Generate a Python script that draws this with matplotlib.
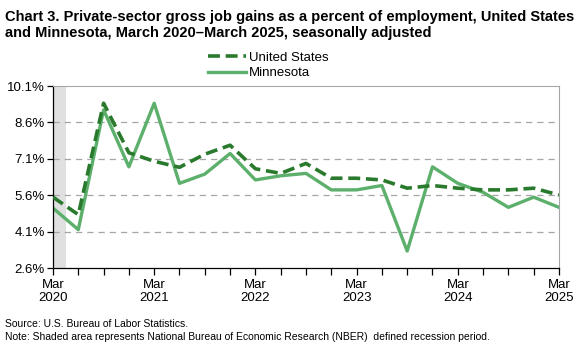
import numpy as np
import matplotlib.pyplot as plt
from matplotlib.ticker import FixedLocator, FuncFormatter

plt.rcParams['font.family'] = ['Liberation Sans', 'DejaVu Sans']

quarters = np.arange(21)
us = [5.52, 4.80, 9.39, 7.35, 7.00, 6.75, 7.29, 7.66, 6.69, 6.50, 6.91,
      6.30, 6.30, 6.23, 5.89, 6.00, 5.89, 5.82, 5.82, 5.89, 5.61]
mn = [5.07, 4.18, 9.12, 6.77, 9.39, 6.09, 6.47, 7.32, 6.23, 6.40, 6.50,
      5.82, 5.82, 6.00, 3.30, 6.77, 6.09, 5.72, 5.10, 5.52, 5.10]
year_labels = ['Mar\n2020', 'Mar\n2021', 'Mar\n2022', 'Mar\n2023', 'Mar\n2024', 'Mar\n2025']
yticks = [2.6, 4.1, 5.6, 7.1, 8.6, 10.1]

fig = plt.figure(figsize=(5.83, 3.46), dpi=100)
ax = fig.add_axes([0.0909, 0.2254, 0.8679, 0.526])

ax.axvspan(0, 0.5, color='#e0e0e0', lw=0, zorder=0)
for y in yticks[1:-1]:
    ax.axhline(y, color='#a6a6a6', lw=0.9, ls=(0, (5, 4)), zorder=1)

ax.plot(quarters, us, color='#2a7a2e', lw=2.6, ls=(0, (3.3, 1.6)), label='United States', zorder=3)
ax.plot(quarters, mn, color='#5cb06c', lw=2.4, label='Minnesota', zorder=2)

ax.set_xlim(0, 20)
ax.set_ylim(2.6, 10.1)
ax.set_yticks(yticks)
ax.yaxis.set_major_formatter(FuncFormatter(lambda v, p: f'{v:.1f}%'))
ax.set_xticks(range(0, 21, 4))
ax.set_xticklabels(year_labels)
ax.xaxis.set_minor_locator(FixedLocator(range(21)))
ax.tick_params(axis='x', which='both', length=5, width=0.9, labelsize=9.5, pad=3)
ax.tick_params(axis='y', length=4, width=0.9, labelsize=9.5, pad=2)
for lab in ax.get_xticklabels():
    lab.set_linespacing(1.15)

ax.spines['top'].set_color('#a6a6a6')
ax.spines['right'].set_color('#a6a6a6')
ax.spines['left'].set_linewidth(0.9)
ax.spines['bottom'].set_linewidth(0.9)

ax.legend(loc='lower center', bbox_to_anchor=(0.425, 1.0), frameon=False, fontsize=9.5,
          handlelength=2.9, handletextpad=0.2, labelspacing=0.25, borderaxespad=0.1)

fig.text(0.008, 0.97, 'Chart 3. Private-sector gross job gains as a percent of employment, United States\n'
         'and Minnesota, March 2020\u2013March 2025, seasonally adjusted',
         fontsize=10.5, fontweight='bold', va='top', ha='left', linespacing=1.15)
fig.text(0.008, 0.05, 'Source: U.S. Bureau of Labor Statistics.', fontsize=7.5, va='bottom')
fig.text(0.008, 0.012, 'Note: Shaded area represents National Bureau of Economic Research (NBER)  defined recession period.',
         fontsize=7.5, va='bottom')

fig.savefig('out.png', dpi=100)
